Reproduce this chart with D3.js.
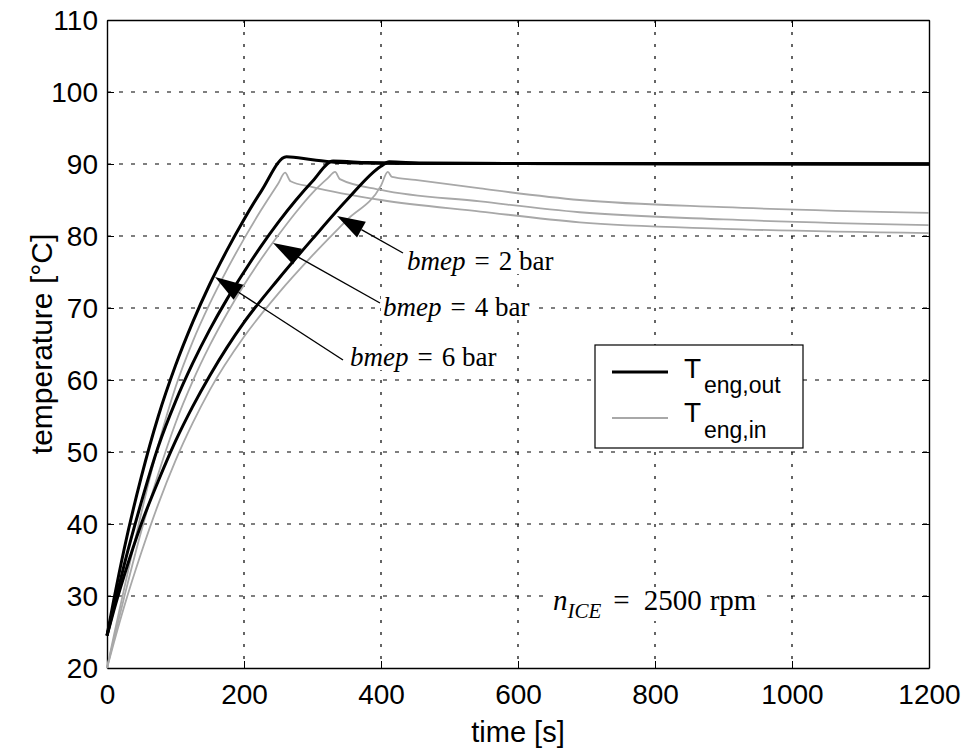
<!DOCTYPE html>
<html><head><meta charset="utf-8">
<script src="https://cdn.jsdelivr.net/npm/d3@7"></script>
<style>body{margin:0;background:#fff}svg{display:block}</style>
</head><body><svg id="c" width="966" height="749"></svg>
<script>
// ---- data ----
const xTicks = [0,200,400,600,800,1000,1200];
const yTicks = [20,30,40,50,60,70,80,90,100,110];
const outBmep6 = [[0,24.5],[10,29.5],[25,36.5],[50,46.5],[75,55],[100,62],[125,68],[150,73.3],[175,78],[200,82.3],[225,86.2],[262,91],[300,90.6],[340,90.2],[400,90.1],[1200,90]];
const outBmep4 = [[0,24.5],[10,28.5],[25,34.3],[50,43],[75,50.8],[100,57],[125,62.3],[150,67],[175,71.2],[200,75],[225,78.6],[250,81.9],[275,84.9],[300,87.6],[330,90.4],[380,90.2],[450,90.1],[1200,90]];
const outBmep2 = [[0,24.5],[10,28],[25,32.8],[50,40],[75,46],[100,51.5],[125,56.3],[150,60.6],[175,64.5],[200,68],[250,74],[300,79.6],[350,85],[400,89.7],[412,90.3],[460,90.1],[1200,90]];
const inBmep6 = [[0,20],[10,24.5],[25,31],[50,41.5],[75,51],[100,59],[125,65.3],[150,70.6],[175,75.3],[200,79.6],[225,83.6],[250,87.3],[260,88.8],[268,87.6],[300,86.8],[400,85],[545,83.4],[690,81.9],[900,81],[1200,80.4]];
const inBmep4 = [[0,20],[10,24],[25,29.8],[50,39],[75,47],[100,54],[125,59.8],[150,64.8],[175,69.2],[200,73.2],[225,76.8],[250,80.1],[275,83.2],[300,86],[322,88],[333,88.9],[340,87.9],[400,86.4],[545,84.8],[690,83.3],[900,82.3],[1200,81.5]];
const inBmep2 = [[0,20],[10,23.5],[25,28.5],[50,36],[75,42.8],[100,48.8],[125,54],[150,58.6],[200,66],[250,72],[300,77.3],[350,82.2],[400,87],[410,88.9],[416,88.2],[450,87.8],[545,86.6],[690,85],[900,84],[1200,83.2]];
const bmepLabels = ["2","4","6"];
const legendNames = ["eng,out","eng,in"];
const speedLabel = "2500";

// ---- layout ----
const svg = d3.select("#c");
const L=107,R=929,T=20,B=668;
const x = d3.scaleLinear().domain([0,1200]).range([L,R]);
const y = d3.scaleLinear().domain([20,110]).range([B,T]);
const g = svg.append("g");

// grid
g.selectAll(".gx").data(xTicks.slice(1,-1)).enter().append("line")
 .attr("x1",d=>x(d)).attr("x2",d=>x(d)).attr("y1",T).attr("y2",B)
 .attr("stroke","#000").attr("stroke-width",1.2).attr("stroke-dasharray","3,9");
g.selectAll(".gy").data(yTicks.slice(1,-1)).enter().append("line")
 .attr("y1",d=>y(d)).attr("y2",d=>y(d)).attr("x1",L).attr("x2",R)
 .attr("stroke","#000").attr("stroke-width",1.2).attr("stroke-dasharray","4,8");

// axes
const fontAx = "'Liberation Sans', Arial, sans-serif";
const fmt = d3.format("d");
const xa = g.append("g").attr("transform",`translate(0,${B})`)
 .call(d3.axisBottom(x).tickValues(xTicks).tickFormat(fmt).tickSizeInner(-7).tickSizeOuter(0).tickPadding(19));
const xa2 = g.append("g").attr("transform",`translate(0,${T})`)
 .call(d3.axisTop(x).tickValues(xTicks).tickSizeInner(-7).tickSizeOuter(0).tickFormat(""));
const ya = g.append("g").attr("transform",`translate(${L},0)`)
 .call(d3.axisLeft(y).tickValues(yTicks).tickFormat(fmt).tickSizeInner(-7).tickSizeOuter(0).tickPadding(9));
const ya2 = g.append("g").attr("transform",`translate(${R},0)`)
 .call(d3.axisRight(y).tickValues(yTicks).tickSizeInner(-7).tickSizeOuter(0).tickFormat(""));
[xa,xa2,ya,ya2].forEach(a=>{
  a.select(".domain").attr("stroke","#000").attr("stroke-width",1.4);
  a.selectAll(".tick line").attr("stroke","#000");
  a.selectAll("text").attr("font-family",fontAx).attr("font-size",28).attr("fill","#000");
});
xa.selectAll("text").attr("dy","0.6em");
ya.selectAll("text").attr("dy","0.35em");

// curves
const line = d3.line().x(d=>x(d[0])).y(d=>y(d[1])).curve(d3.curveMonotoneX);
[inBmep6,inBmep4,inBmep2].forEach(s=>{
  g.append("path").datum(s).attr("d",line).attr("fill","none")
   .attr("stroke","#a8a8a8").attr("stroke-width",1.8);
});
[outBmep6,outBmep4,outBmep2].forEach(s=>{
  g.append("path").datum(s).attr("d",line).attr("fill","none")
   .attr("stroke","#000").attr("stroke-width",3).attr("stroke-linejoin","round");
});

// annotations with arrows
const serif = "'Liberation Serif','Times New Roman',serif";
function bg(t){
  const b=t.node().getBBox();
  g.insert("rect",()=>t.node()).attr("x",b.x-2).attr("y",b.y+4).attr("width",b.width+4).attr("height",b.height-6).attr("fill","#fff");
}
const ann = [
  {lab:bmepLabels[0], tx:407, ty:270, from:[403,253], tip:[337,216]},
  {lab:bmepLabels[1], tx:383, ty:316, from:[380,303], tip:[273,243]},
  {lab:bmepLabels[2], tx:350, ty:366, from:[343,360], tip:[215,277]}
];
ann.forEach(a=>{
  const dx=a.tip[0]-a.from[0], dy=a.tip[1]-a.from[1], len=Math.hypot(dx,dy);
  const ux=dx/len, uy=dy/len, hl=28, hw=9;
  const bx=a.tip[0]-ux*hl, by=a.tip[1]-uy*hl;
  g.append("line").attr("x1",a.from[0]).attr("y1",a.from[1]).attr("x2",bx).attr("y2",by)
   .attr("stroke","#000").attr("stroke-width",1.4);
  g.append("path").attr("d",`M${a.tip[0]},${a.tip[1]}L${bx-uy*hw},${by+ux*hw}L${bx+uy*hw},${by-ux*hw}Z`)
   .attr("fill","#000");
  const t = g.append("text").attr("x",a.tx).attr("y",a.ty).attr("font-family",serif).attr("font-size",27).attr("fill","#000");
  t.append("tspan").attr("font-style","italic").text("bmep");
  t.append("tspan").attr("dx",9).text("=");
  t.append("tspan").attr("dx",9).text(a.lab+" bar");
  bg(t);
});

// legend
const lg = g.append("g");
lg.append("rect").attr("x",595).attr("y",345).attr("width",208).attr("height",103)
  .attr("fill","#fff").attr("stroke","#000").attr("stroke-width",1.2);
lg.append("line").attr("x1",612).attr("x2",668).attr("y1",372).attr("y2",372).attr("stroke","#000").attr("stroke-width",3);
lg.append("line").attr("x1",612).attr("x2",668).attr("y1",418).attr("y2",418).attr("stroke","#a8a8a8").attr("stroke-width",1.8);
[[378,393],[422,438]].forEach((p,i)=>{
  lg.append("text").attr("x",684).attr("y",p[0]).attr("font-family",fontAx).attr("font-size",28).text("T");
  lg.append("text").attr("x",704).attr("y",p[1]).attr("font-family",fontAx).attr("font-size",23).text(legendNames[i]);
});

// rpm label
const nt = g.append("text").attr("x",553).attr("y",610).attr("font-family",serif).attr("font-size",29).attr("fill","#000");
nt.append("tspan").attr("font-style","italic").text("n");
nt.append("tspan").attr("font-style","italic").attr("font-size",21).attr("dy",8).text("ICE");
nt.append("tspan").attr("dy",-8).attr("dx",12).text("=");
nt.append("tspan").attr("dx",14).text(speedLabel);
nt.append("tspan").attr("dx",8).text("rpm");
bg(nt);

// axis titles
g.append("text").attr("x",(L+R)/2).attr("y",742).attr("text-anchor","middle")
 .attr("font-family",fontAx).attr("font-size",29).text("time [s]");
g.append("text").attr("transform",`translate(52,${(T+B)/2}) rotate(-90)`).attr("text-anchor","middle")
 .attr("font-family",fontAx).attr("font-size",30).text("temperature [°C]");
</script></body></html>
